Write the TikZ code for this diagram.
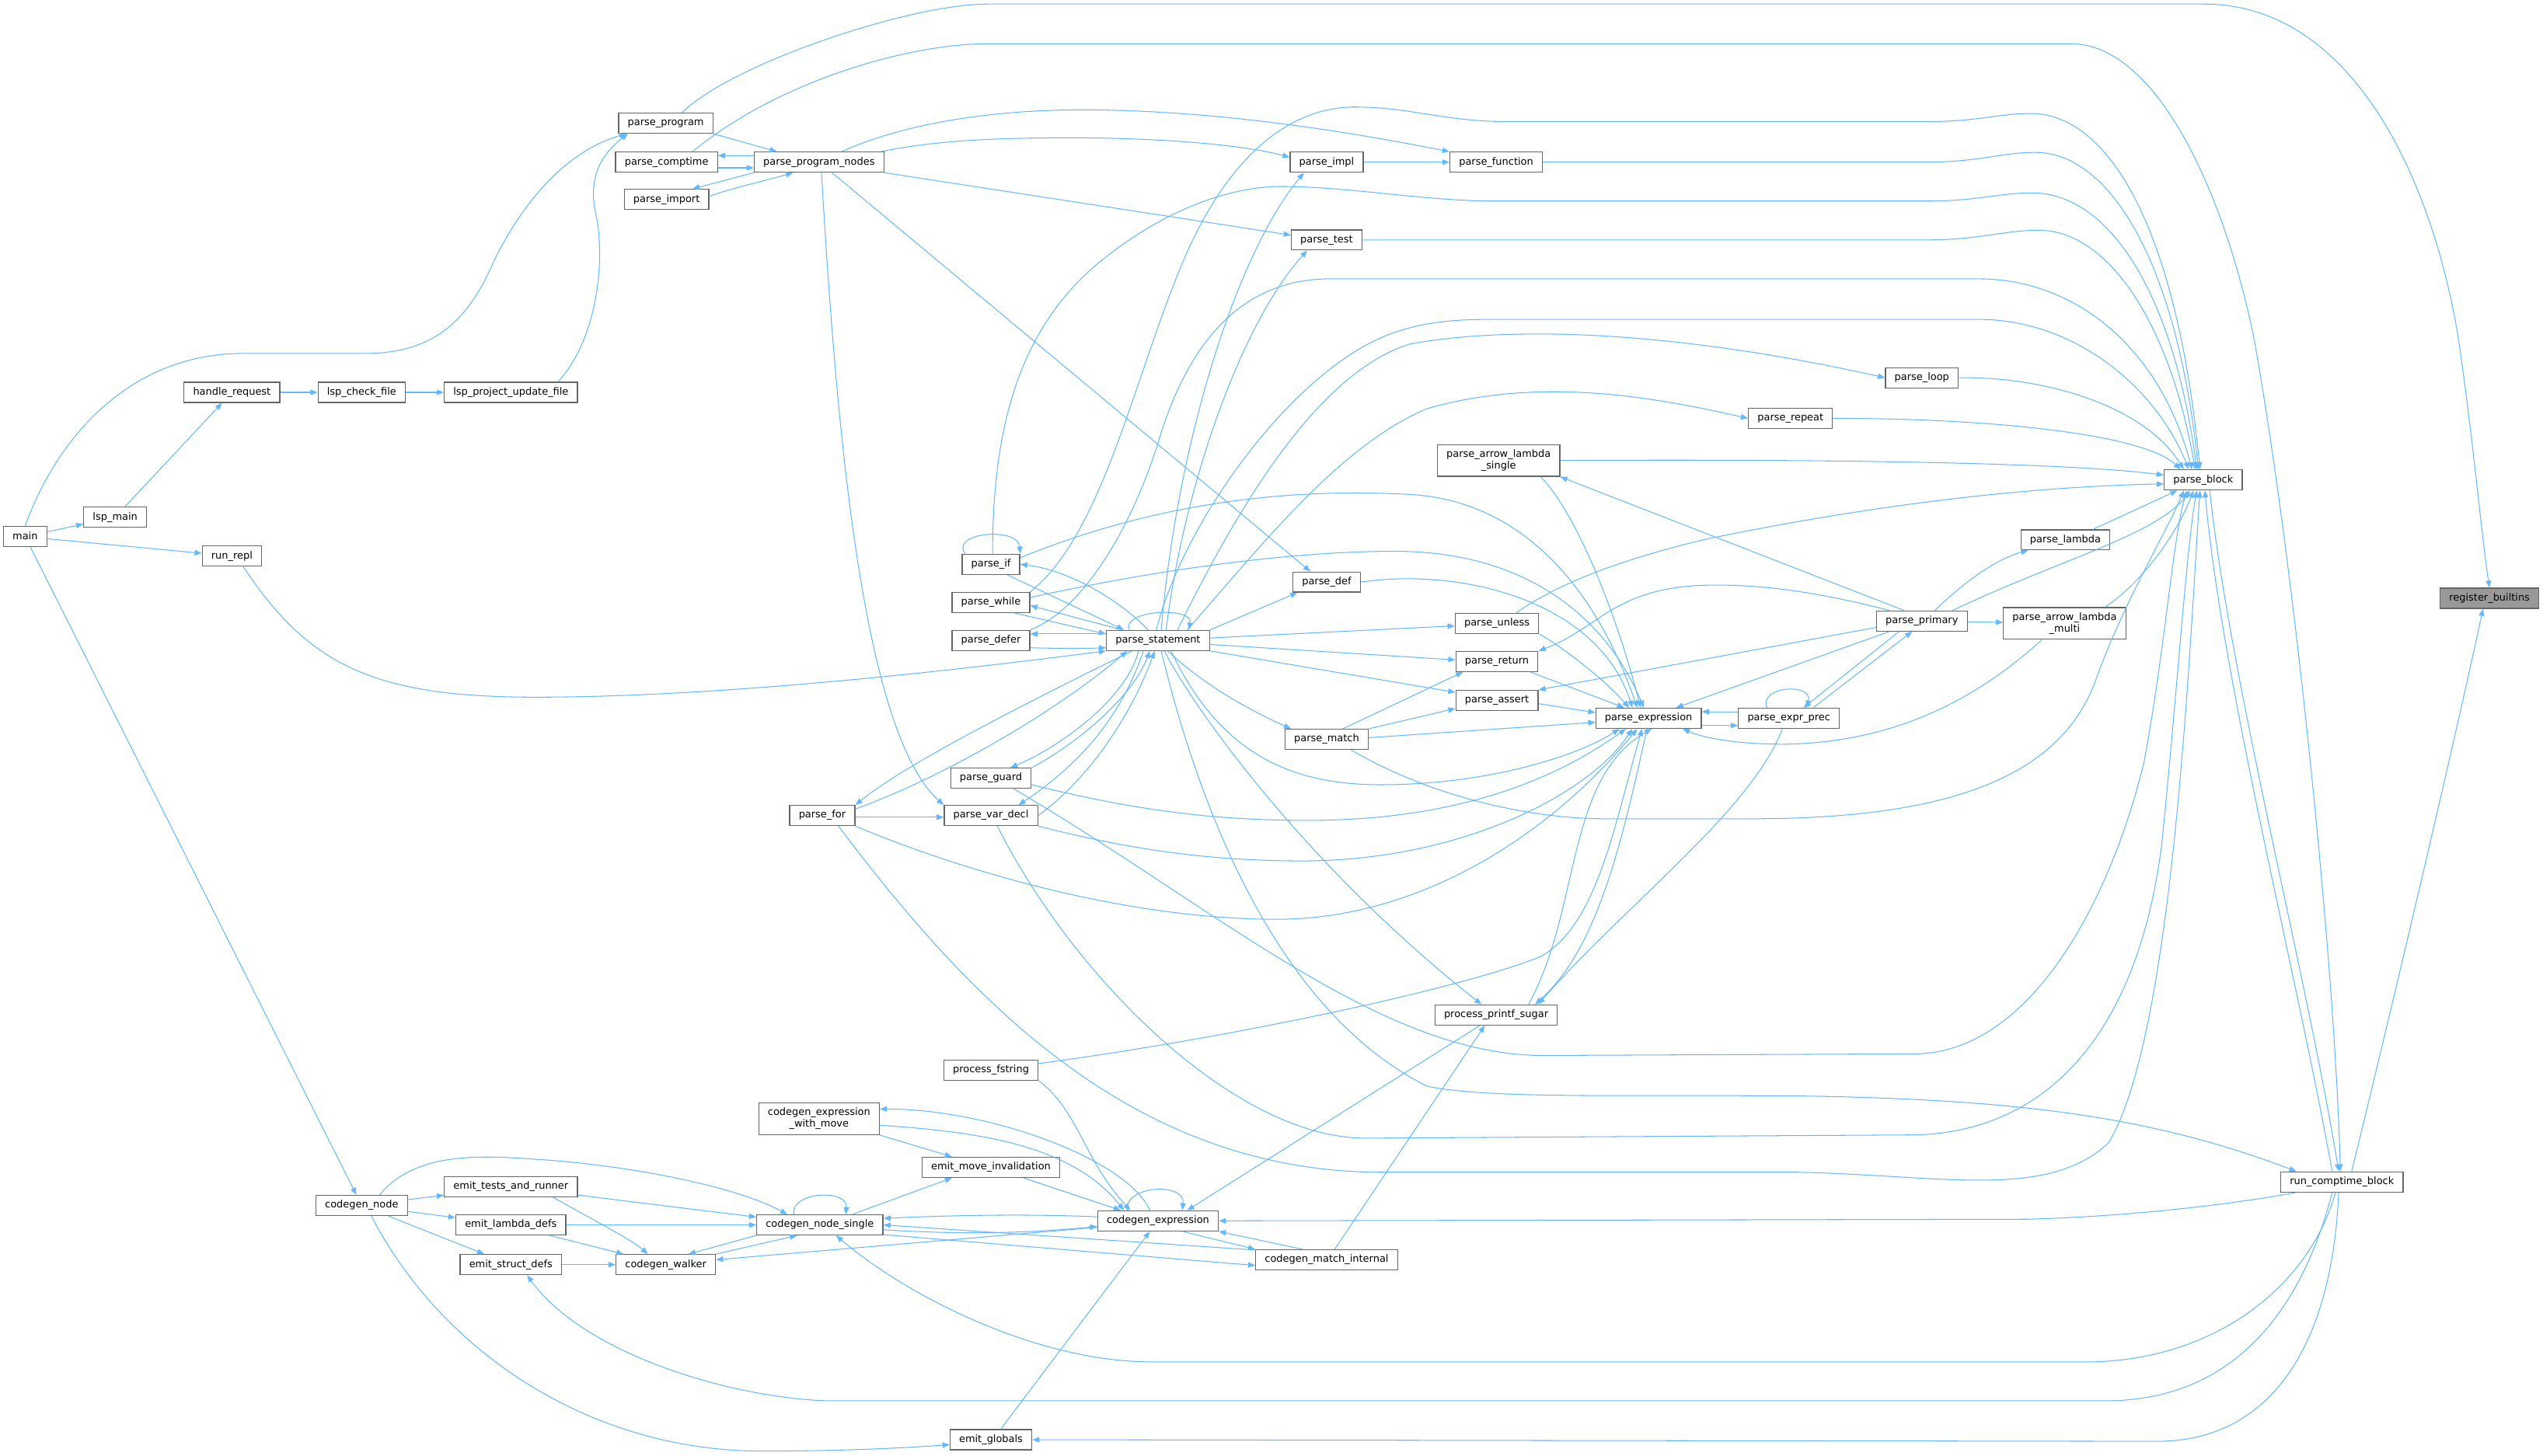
\documentclass[tikz,border=0pt]{standalone}
\usepackage{fontspec}
\newfontfamily\dvs{DejaVu Sans}
\usetikzlibrary{arrows.meta}
\definecolor{edgeblue}{HTML}{63B8FF}
\definecolor{boxgray}{HTML}{666666}
\definecolor{rootgray}{HTML}{999999}
\begin{document}
\begin{tikzpicture}[x=1pt,y=-1pt,
    fn/.style={draw=boxgray, fill=white, line width=0.6pt, font=\dvs\fontsize{6.2}{7.4}\selectfont,
      inner xsep=5.6pt, inner ysep=0pt, minimum height=12.4pt, text height=4.6pt, text depth=1.4pt},
    fn2/.style={draw=boxgray, fill=white, line width=0.6pt, font=\dvs\fontsize{6.2}{7.4}\selectfont,
      inner xsep=5.6pt, inner ysep=3pt, align=center},
    calls/.style={draw=edgeblue, line width=0.5pt, -{Triangle[length=4.4pt,width=3.4pt]}}]
  \useasboundingbox (0,0) rectangle (1568,897.6);

  % entry points
  \node[fn] (main) at (15.5,331) {main};
  \node[fn] (lspmain) at (71,319) {lsp\_main};
  \node[fn] (runrepl) at (143,343) {run\_repl};
  \node[fn] (handlereq) at (143,242) {handle\_request};
  \node[fn] (lspcheck) at (223,242) {lsp\_check\_file};
  \node[fn] (lspupdate) at (315,242) {lsp\_project\_update\_file};

  % parser
  \node[fn] (pprogram) at (410.5,76) {parse\_program};
  \node[fn] (pcomptime) at (411,100) {parse\_comptime};
  \node[fn] (pimport) at (411,123) {parse\_import};
  \node[fn] (pnodes) at (505,100) {parse\_program\_nodes};
  \node[fn] (pimpl) at (818,100) {parse\_impl};
  \node[fn] (pfunction) at (922.5,100) {parse\_function};
  \node[fn] (ptest) at (818,148) {parse\_test};
  \node[fn] (ploop) at (1185,233) {parse\_loop};
  \node[fn] (prepeat) at (1104,258) {parse\_repeat};
  \node[fn2] (plsingle) at (924,284) {parse\_arrow\_lambda\\\_single};
  \node[fn] (plambda) at (1273.5,333) {parse\_lambda};
  \node[fn] (pprimary) at (1185,383) {parse\_primary};
  \node[fn2] (plmulti) at (1273,384.5) {parse\_arrow\_lambda\\\_multi};
  \node[fn] (pblock) at (1358.5,296) {parse\_block};
  \node[fn, fill=rootgray] (builtins) at (1535,369) {register\_builtins};
  \node[fn] (runct) at (1444,729) {run\_comptime\_block};
  \node[fn] (pexprprec) at (1103,443) {parse\_expr\_prec};
  \node[fn] (pexpr) at (1016.5,443) {parse\_expression};
  \node[fn] (punless) at (923,384.5) {parse\_unless};
  \node[fn] (preturn) at (923,408) {parse\_return};
  \node[fn] (passert) at (923,432) {parse\_assert};
  \node[fn] (pmatch) at (818,456) {parse\_match};
  \node[fn] (pdef) at (818,359) {parse\_def};
  \node[fn] (pstmt) at (714,395) {parse\_statement};
  \node[fn] (pif) at (611,348) {parse\_if};
  \node[fn] (pwhile) at (611,371.5) {parse\_while};
  \node[fn] (pdefer) at (611,395) {parse\_defer};
  \node[fn] (pguard) at (611,480) {parse\_guard};
  \node[fn] (pvardecl) at (611,503) {parse\_var\_decl};
  \node[fn] (pfor) at (507,503) {parse\_for};
  \node[fn] (printf) at (922.5,626) {process\_printf\_sugar};
  \node[fn] (fstring) at (611,660) {process\_fstring};

  % code generator
  \node[fn2] (cgwithmove) at (505,690) {codegen\_expression\\\_with\_move};
  \node[fn] (emitmove) at (611,720) {emit\_move\_invalidation};
  \node[fn] (cgexpr) at (714,753) {codegen\_expression};
  \node[fn] (cgmatch) at (818,777) {codegen\_match\_internal};
  \node[fn] (cgsingle) at (505.5,755.5) {codegen\_node\_single};
  \node[fn] (cgwalker) at (410.5,780) {codegen\_walker};
  \node[fn] (emittests) at (315,732) {emit\_tests\_and\_runner};
  \node[fn] (emitlambda) at (315,755.5) {emit\_lambda\_defs};
  \node[fn] (emitstruct) at (315,780) {emit\_struct\_defs};
  \node[fn] (cgnode) at (223,743.5) {codegen\_node};
  \node[fn] (emitglobals) at (611,888) {emit\_globals};

  % main and lsp
  \draw[calls] (main) -- (lspmain);
  \draw[calls] (main) -- (runrepl);
  \draw[calls] (main) -- (cgnode);
  \draw[calls] (main.north) .. controls (35,270) and (80,218) .. (150,218) -- (225,218)
    .. controls (270,218) and (290,195) .. (305,160) .. controls (330,110) and (360,90) .. ([xshift=5pt]pprogram.south west);
  \draw[calls] (lspmain) -- (handlereq);
  \draw[calls] (handlereq) -- (lspcheck);
  \draw[calls] (lspcheck) -- (lspupdate);
  \draw[calls] ([xshift=29pt]lspupdate.north) .. controls (368,210) and (374,160) .. (367,130)
    .. controls (362,105) and (375,92) .. ([xshift=6pt]pprogram.south west);
  \draw[calls] ([xshift=7pt]runrepl.south) .. controls (190,410) and (230,430) .. (330,430)
    .. controls (450,430) and (600,412) .. (pstmt.south west);

  % program level
  \draw[calls] ([xshift=10pt]pprogram.north) .. controls (450,40) and (560,2.5) .. (609,2.5) -- (1359,2.5)
    .. controls (1450,2.5) and (1500,110) .. (1516,210) .. controls (1526,280) and (1530,330) .. (builtins.north);
  \draw[calls] (pprogram.south east) -- ([xshift=-26pt]pnodes.north);
  \draw[calls] ([yshift=4pt]pnodes.west) -- ([yshift=4pt]pcomptime.east);
  \draw[calls] ([yshift=-3.5pt]pcomptime.east) -- ([yshift=-3.5pt]pnodes.west);
  \draw[calls] ([xshift=16pt]pcomptime.north) .. controls (480,50) and (560,27) .. (609,27) -- (1277,27)
    .. controls (1330,27) and (1372,120) .. (1390,210) .. controls (1415,350) and (1440,600) .. ([xshift=-1pt]runct.north);
  \draw[calls] (pnodes.south west) -- ([xshift=16pt]pimport.north);
  \draw[calls] ([yshift=2pt]pimport.east) .. controls (455,115) and (470,112) .. ([xshift=-16pt]pnodes.south);
  \draw[calls] ([xshift=14pt]pnodes.north) .. controls (560,75) and (620,66) .. (686,68)
    .. controls (770,70) and (850,85) .. (pfunction.north west);
  \draw[calls] ([xshift=-2pt]pnodes.north east) .. controls (580,86) and (620,85) .. (661,85)
    .. controls (720,85) and (770,90) .. ([yshift=3pt]pimpl.west);
  \draw[calls] (pimpl) -- (pfunction);
  \draw[calls] (pnodes.south east) -- ([yshift=3pt]ptest.west);
  \draw[calls] ([xshift=8pt]pnodes.south) -- ([xshift=-10pt]pdef.north);
  \draw[calls] ([xshift=1.5pt]pnodes.south) .. controls (515,250) and (530,450) .. (pvardecl.north west);

  % into parse_block from above
  \draw[calls] (pfunction.east) -- (1188,100) .. controls (1220,100) and (1234,94) .. (1255,94)
    .. controls (1300,94) and (1342,160) .. ([xshift=-3pt]pblock.north);
  \draw[calls] (ptest.east) -- (1188,148) .. controls (1220,148) and (1236,142) .. (1257,142)
    .. controls (1300,142) and (1338,200) .. ([xshift=-5pt]pblock.north);
  \draw[calls] ([xshift=1pt]pif.north) .. controls (612,260) and (630,200) .. (680,160)
    .. controls (720,128) and (760,115) .. (790,115) .. controls (830,115) and (880,124) .. (920,124) -- (1188,124)
    .. controls (1220,124) and (1232,119) .. (1253,119) .. controls (1300,119) and (1340,180) .. ([xshift=-4pt]pblock.north);
  \draw[calls] (pwhile.north east) .. controls (680,330) and (700,230) .. (730,160)
    .. controls (760,90) and (800,66) .. (835,66) .. controls (870,66) and (890,75) .. (930,75) -- (1188,75)
    .. controls (1220,75) and (1232,70) .. (1252,70) .. controls (1300,70) and (1342,140) .. ([xshift=-2pt]pblock.north);
  \draw[calls] (pdefer.north east) .. controls (670,375) and (700,320) .. (715,270)
    .. controls (735,205) and (770,172) .. (820,172) -- (1220,172)
    .. controls (1280,172) and (1332,215) .. ([xshift=-7pt]pblock.north);
  \draw[calls] ([xshift=-1pt]pstmt.north) .. controls (730,320) and (800,225) .. (860,205)
    .. controls (880,198) and (900,197) .. (920,197) -- (1220,197)
    .. controls (1280,197) and (1330,240) .. ([xshift=-9pt]pblock.north);
  \draw[calls] ([xshift=12pt]pstmt.north) .. controls (760,320) and (810,230) .. (870,212)
    .. controls (950,198) and (1060,210) .. (ploop.west);
  \draw[calls] ([xshift=18pt]pstmt.north) .. controls (775,340) and (825,275) .. (880,252)
    .. controls (950,232) and (1020,245) .. (prepeat.west);
  \draw[calls] ([xshift=2pt]pstmt.north) .. controls (725,280) and (760,160) .. ([xshift=-14pt]pimpl.south);
  \draw[calls] ([xshift=5pt]pstmt.north) .. controls (730,300) and (765,200) .. ([xshift=-12pt]ptest.south);
  \draw[calls] (ploop.east) .. controls (1260,232) and (1322,250) .. ([xshift=-12pt]pblock.north);
  \draw[calls] (prepeat.east) .. controls (1230,258) and (1322,268) .. ([xshift=-14pt]pblock.north);
  \draw[calls] (plsingle.east) .. controls (1150,283) and (1280,286) .. ([yshift=3pt]pblock.west);
  \draw[calls] ([xshift=12pt]punless.north) .. controls (960,360) and (1000,345) .. (1050,333)
    .. controls (1150,312) and (1250,300) .. ([yshift=-2.5pt]pblock.west);
  \draw[calls] ([xshift=17pt]plambda.north) -- ([xshift=-16pt]pblock.south);
  \draw[calls] ([xshift=19pt]pprimary.north) .. controls (1270,345) and (1330,330) .. ([xshift=-8pt]pblock.south);
  \draw[calls] ([xshift=25pt]plmulti.north) .. controls (1320,360) and (1342,330) .. ([xshift=-6pt]pblock.south);
  \draw[calls] ([xshift=4pt]pblock.south) .. controls (1375,420) and (1422,600) .. ([xshift=-2pt]runct.north);
  \draw[calls] ([xshift=-6pt]runct.north) .. controls (1416,600) and (1370,420) .. ([xshift=1pt]pblock.south);
  \draw[calls] ([xshift=6pt]runct.north) .. controls (1480,600) and (1515,450) .. ([xshift=-4pt]builtins.south);

  % into parse_block from below
  \draw[calls] ([xshift=15pt]pmatch.south) .. controls (880,490) and (940,505) .. (990,505) -- (1080,505)
    .. controls (1200,505) and (1270,480) .. (1292,420) .. controls (1310,370) and (1335,330) .. ([xshift=-12pt]pblock.south);
  \draw[calls] ([xshift=14pt]pguard.south) .. controls (750,560) and (850,650) .. (950,651) -- (1180,650)
    .. controls (1250,650) and (1300,560) .. (1322,470) .. controls (1335,400) and (1340,330) .. ([xshift=-10pt]pblock.south);
  \draw[calls] ([xshift=4pt]pvardecl.south) .. controls (660,600) and (760,702) .. (842,702) -- (1177,700)
    .. controls (1260,700) and (1318,640) .. (1333,520) .. controls (1343,420) and (1348,340) .. ([xshift=-4pt]pblock.south);
  \draw[calls] ([xshift=10pt]pfor.south) .. controls (600,620) and (700,722) .. (850,723) -- (1108,723)
    .. controls (1200,725) and (1262,740) .. (1300,705) .. controls (1340,640) and (1350,400) .. ([xshift=-2pt]pblock.south);

  % around parse_statement
  \draw[calls] ([xshift=-6pt]pstmt.north) .. controls (690,370) and (660,352) .. (pif.east);
  \draw[calls] ([xshift=10pt]pif.south) -- ([xshift=-21pt]pstmt.north);
  \draw[calls] ([xshift=-16pt]pif.north) .. controls (586,328) and (628,325) .. (pif.north east);
  \draw[calls] ([xshift=-22pt]pstmt.north) -- ([yshift=-2pt]pwhile.east);
  \draw[calls] ([xshift=14pt]pwhile.south) -- ([yshift=4pt]pstmt.west);
  \draw[calls] ([yshift=4pt]pstmt.west) -- ([yshift=4pt]pdefer.east);
  \draw[calls] ([yshift=-4.5pt]pdefer.east) .. controls (650,400) and (670,400) .. ([yshift=-4.5pt]pstmt.west);
  \draw[calls] ([xshift=-18pt]pstmt.north) .. controls (692,376) and (736,374) .. ([xshift=19pt]pstmt.north);
  \draw[calls] ([xshift=-12pt]pstmt.south) .. controls (695,430) and (655,460) .. ([xshift=12pt]pguard.north);
  \draw[calls] (pguard.north east) .. controls (665,458) and (698,430) .. ([xshift=-5pt]pstmt.south);
  \draw[calls] ([xshift=-9pt]pstmt.south) .. controls (692,440) and (668,470) .. ([xshift=17pt]pvardecl.north);
  \draw[calls] (pvardecl.east) .. controls (672,480) and (698,440) .. ([xshift=-2pt]pstmt.south);
  \draw[calls] ([xshift=-16pt]pstmt.south) .. controls (640,430) and (560,470) .. (pfor.north east);
  \draw[calls] ([yshift=4pt]pfor.east) .. controls (580,480) and (650,440) .. ([xshift=-19pt]pstmt.south);
  \draw[calls] ([yshift=-1pt]pfor.east) -- ([yshift=-1pt]pvardecl.west);
  \draw[calls] (pstmt.north east) -- ([xshift=-18pt]pdef.south);
  \draw[calls] ([yshift=1.5pt]pstmt.east) -- ([yshift=-1.5pt]punless.west);
  \draw[calls] ([yshift=-2.5pt]pstmt.east) -- ([yshift=1pt]preturn.west);
  \draw[calls] (pstmt.south east) -- ([yshift=5pt]passert.west);
  \draw[calls] ([xshift=6pt]pstmt.south) .. controls (745,425) and (775,440) .. ([xshift=-22pt]pmatch.north);
  \draw[calls] ([xshift=8pt]pstmt.south) .. controls (750,460) and (790,484) .. (851,484)
    .. controls (920,484) and (975,465) .. ([xshift=-18pt]pexpr.south);
  \draw[calls] ([xshift=4pt]pstmt.south) .. controls (732,430) and (800,530) .. ([xshift=-9pt]printf.north);
  \draw[calls] ([xshift=2pt]pstmt.south) .. controls (735,480) and (780,620) .. (880,670)
    .. controls (920,678) and (1000,675) .. (1110,676) .. controls (1250,678) and (1330,690) .. ([xshift=-28pt]runct.north);

  % around parse_expression
  \draw[calls] (pdef.east) .. controls (900,350) and (985,370) .. ([xshift=-10pt]pexpr.north);
  \draw[calls] ([xshift=10pt]pmatch.north) -- ([xshift=-21pt]preturn.south);
  \draw[calls] (pmatch.north east) -- ([yshift=-5pt]passert.west);
  \draw[calls] ([yshift=1pt]pmatch.east) -- ([yshift=-2.5pt]pexpr.west);
  \draw[calls] (punless.south east) .. controls (965,400) and (990,420) .. ([xshift=-12pt]pexpr.north);
  \draw[calls] ([xshift=-5pt]preturn.south east) -- ([xshift=-15pt]pexpr.north);
  \draw[calls] ([yshift=-2pt]passert.east) -- ([yshift=3.5pt]pexpr.west);
  \draw[calls] ([xshift=26pt]plsingle.south) .. controls (975,320) and (1000,390) .. ([xshift=-5pt]pexpr.north);
  \draw[calls] ([yshift=4pt]pif.east) .. controls (700,315) and (780,300) .. (870,305)
    .. controls (950,310) and (990,380) .. ([xshift=-7pt]pexpr.north);
  \draw[calls] ([yshift=3pt]pwhile.east) .. controls (720,350) and (800,340) .. (860,340)
    .. controls (940,340) and (990,380) .. ([xshift=-3pt]pexpr.north);
  \draw[calls] ([yshift=-4pt]pguard.east) .. controls (700,500) and (750,506) .. (806,506)
    .. controls (900,506) and (960,480) .. ([xshift=-14pt]pexpr.south);
  \draw[calls] (pvardecl.south east) .. controls (700,525) and (750,531) .. (803,531)
    .. controls (900,531) and (980,490) .. ([xshift=-10pt]pexpr.south);
  \draw[calls] (pfor.south east) .. controls (600,540) and (700,567) .. (787,567)
    .. controls (880,567) and (960,510) .. ([xshift=-7pt]pexpr.south);
  \draw[calls] ([yshift=4pt]fstring.east) .. controls (760,640) and (900,610) .. (950,590)
    .. controls (985,570) and (995,510) .. ([xshift=-4pt]pexpr.south);
  \draw[calls] ([xshift=-1pt]pexpr.south) .. controls (1000,520) and (985,585) .. ([xshift=24pt]printf.north);
  \draw[calls] ([xshift=20pt]printf.north) .. controls (975,560) and (965,480) .. ([xshift=2pt]pexpr.south);
  \draw[calls] ([xshift=-4pt]pexprprec.south) .. controls (1080,500) and (1000,560) .. ([xshift=26pt]printf.north);
  \draw[calls] ([yshift=-4.5pt]pexpr.east) -- ([yshift=-4.5pt]pexprprec.west);
  \draw[calls] ([yshift=4pt]pexprprec.west) -- ([yshift=4pt]pexpr.east);
  \draw[calls] ([xshift=-13.5pt]pexprprec.north) .. controls (1084,423) and (1118,421) .. ([xshift=11pt]pexprprec.north);
  \draw[calls] ([xshift=15pt]pexprprec.north) -- ([xshift=-6pt]pprimary.south);
  \draw[calls] ([xshift=-14pt]pprimary.south) -- ([xshift=9pt]pexprprec.north);
  \draw[calls] ([xshift=-11pt]pprimary.north) -- (plsingle.south east);
  \draw[calls] ([xshift=-20pt]pprimary.north) .. controls (1120,365) and (1085,360) .. (1050,361)
    .. controls (995,363) and (985,388) .. (preturn.north east);
  \draw[calls] ([yshift=-4pt]pprimary.west) -- (passert.north east);
  \draw[calls] ([xshift=-20pt]pprimary.south) -- ([xshift=17pt]pexpr.north);
  \draw[calls] ([xshift=8pt]pprimary.north) .. controls (1210,360) and (1230,345) .. ([xshift=-23pt]plambda.south);
  \draw[calls] (pprimary) -- (plmulti);
  \draw[calls] ([xshift=-14pt]plmulti.south) .. controls (1220,430) and (1170,458) .. (1100,459)
    .. controls (1070,459) and (1050,455) .. ([xshift=21pt]pexpr.south);

  % code generator
  \draw[calls] (cgnode) -- (emittests);
  \draw[calls] (cgnode) -- (emitlambda);
  \draw[calls] (cgnode) -- (emitstruct);
  \draw[calls] ([xshift=11pt]cgnode.north) .. controls (255,712) and (290,712) .. (330,715)
    .. controls (380,718) and (450,730) .. ([xshift=-20pt]cgsingle.north);
  \draw[calls] ([xshift=6pt]cgnode.south) .. controls (270,830) and (360,895) .. (470,895)
    .. controls (520,895) and (560,893) .. ([yshift=-3pt]emitglobals.west);
  \draw[calls] (emittests) -- (cgsingle);
  \draw[calls] ([xshift=26pt]emittests.south) .. controls (365,752) and (390,765) .. ([xshift=-11pt]cgwalker.north);
  \draw[calls] (emitlambda) -- (cgsingle);
  \draw[calls] ([xshift=24pt]emitlambda.south) -- ([xshift=-26pt]cgwalker.north);
  \draw[calls] (emitstruct) -- (cgwalker);
  \draw[calls] (cgwalker.north east) -- ([xshift=-14pt]cgsingle.south);
  \draw[calls] (cgsingle.south west) -- ([xshift=14pt]cgwalker.north);
  \draw[calls] ([yshift=-4pt]cgexpr.west) -- ([yshift=3pt]cgwalker.east);
  \draw[calls] ([yshift=-3pt]cgsingle.east) .. controls (600,762) and (640,760) .. ([yshift=-3.5pt]cgexpr.west);
  \draw[calls] ([yshift=2.5pt]cgexpr.west) .. controls (640,749) and (600,749) .. ([yshift=4pt]cgsingle.east);
  \draw[calls] ([xshift=-16pt]cgsingle.north) .. controls (487,735) and (523,733) .. ([xshift=16pt]cgsingle.north);
  \draw[calls] ([xshift=20pt]cgsingle.north) -- ([xshift=-24pt]emitmove.south);
  \draw[calls] (cgwithmove.south east) -- ([xshift=-24pt]emitmove.north);
  \draw[calls] ([xshift=-5pt]cgexpr.north) .. controls (695,715) and (610,684) .. ([yshift=6pt]cgwithmove.east);
  \draw[calls] ([yshift=-4pt]cgwithmove.east) .. controls (600,698) and (660,705) .. ([xshift=-21pt]cgexpr.north);
  \draw[calls] ([xshift=20pt]emitmove.south) -- ([xshift=-23pt]cgexpr.north);
  \draw[calls] ([xshift=-19pt]cgexpr.north) .. controls (693,731) and (731,729) .. ([xshift=15pt]cgexpr.north);
  \draw[calls] ([yshift=6pt]cgmatch.west) -- (cgsingle.east);
  \draw[calls] ([yshift=-6pt]cgsingle.east) -- ([yshift=-3.5pt]cgmatch.west);
  \draw[calls] ([xshift=15pt]cgexpr.south) -- (cgmatch.north west);
  \draw[calls] ([xshift=-15pt]cgmatch.north) -- (cgexpr.south east);
  \draw[calls] ([xshift=6pt]emitglobals.north) -- ([xshift=-5pt]cgexpr.south);
  \draw[calls] (fstring.south east) .. controls (665,685) and (668,715) .. ([xshift=-17pt]cgexpr.north);
  \draw[calls] ([xshift=-10pt]printf.south) -- ([xshift=18pt]cgexpr.north);
  \draw[calls] ([xshift=5pt]cgmatch.north) -- ([xshift=-7pt]printf.south);

  % run_comptime_block into the code generator
  \draw[calls] ([xshift=-28pt]runct.south) .. controls (1380,742) and (1320,750) .. (1250,752) -- (cgexpr.east);
  \draw[calls] ([xshift=-4pt]runct.south) .. controls (1425,790) and (1370,838) .. (1290,840) -- (710,840)
    .. controls (640,840) and (560,800) .. ([xshift=10pt]cgsingle.south);
  \draw[calls] ([xshift=-6pt]runct.south) .. controls (1420,805) and (1380,863) .. (1300,864) -- (510,864)
    .. controls (450,862) and (360,835) .. ([xshift=10pt]emitstruct.south);
  \draw[calls] ([xshift=-2pt]runct.south) .. controls (1438,830) and (1400,889) .. (1330,889) -- (emitglobals.east);
\end{tikzpicture}
\end{document}
